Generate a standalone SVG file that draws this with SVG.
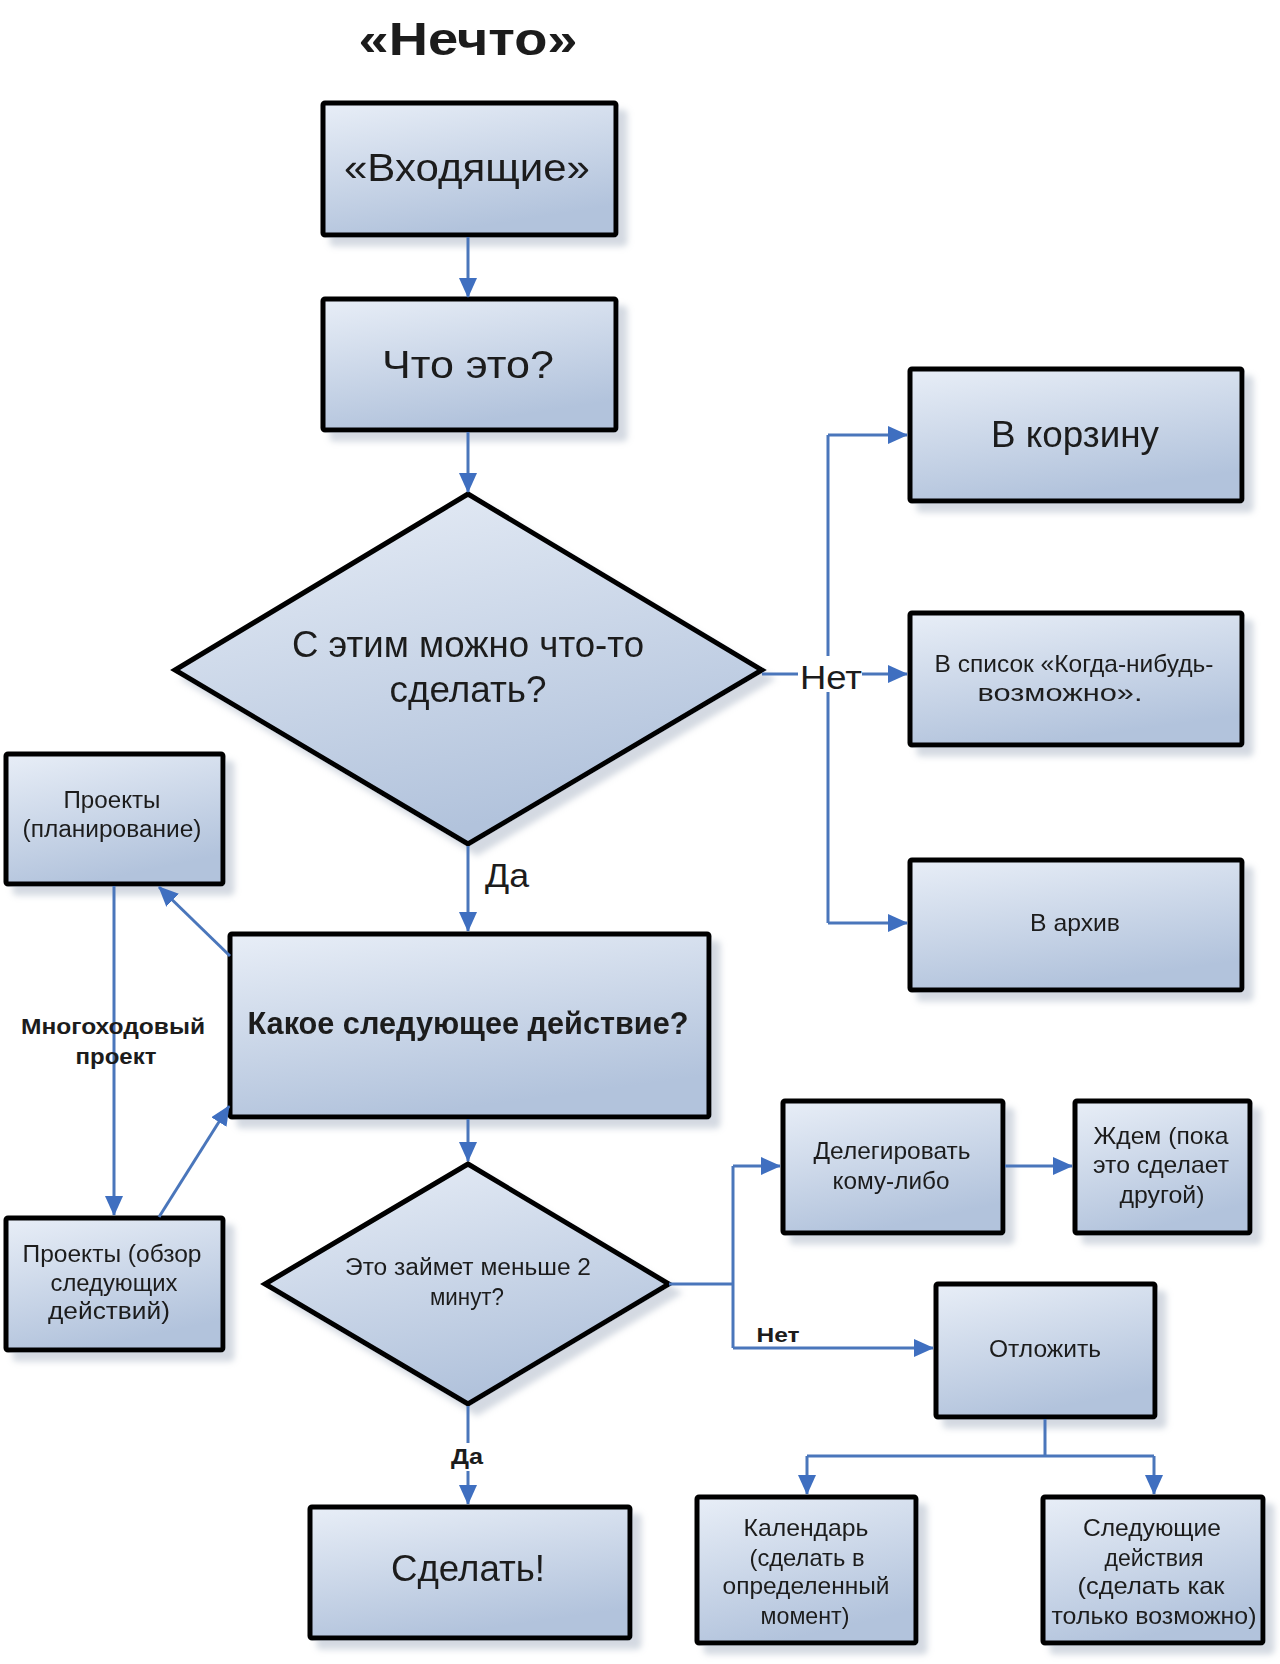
<svg xmlns="http://www.w3.org/2000/svg" width="1280" height="1664" viewBox="0 0 1280 1664">
<defs>
<linearGradient id="fillG" x1="0" y1="0" x2="0.35" y2="1">
<stop offset="0" stop-color="#e8eef7"/>
<stop offset="1" stop-color="#b2c3dc"/>
</linearGradient>
<filter id="sh" x="-10%" y="-10%" width="130%" height="130%">
<feDropShadow dx="9" dy="9" stdDeviation="3" flood-color="#9fabbd" flood-opacity="0.45"/>
</filter>
<marker id="ar" markerUnits="userSpaceOnUse" markerWidth="20" markerHeight="18" refX="19" refY="9" orient="auto">
<path d="M0,0 L20,9 L0,18 Z" fill="#3f6fc0"/>
</marker>
<style>
.box{fill:url(#fillG);stroke:#000;stroke-width:5;}
.t{font-family:"Liberation Sans",Arial,sans-serif;fill:#1c1c1c;text-anchor:middle;}
.b{font-weight:bold;}
.c{fill:none;stroke:#4a76bb;stroke-width:3;}
.ca{fill:none;stroke:#4a76bb;stroke-width:3;marker-end:url(#ar);}
</style>
</defs>
<rect width="1280" height="1664" fill="#ffffff"/>

<text id="title" class="t b" x="468" y="55" font-size="46" textLength="219" lengthAdjust="spacingAndGlyphs">«Нечто»</text>

<g id="nodes">
<g id="inbox" filter="url(#sh)">
<rect class="box" x="323" y="103" width="293" height="132" rx="2"/>
<text class="t" x="467" y="181" font-size="38" textLength="246" lengthAdjust="spacingAndGlyphs">«Входящие»</text>
</g>
<g id="what" filter="url(#sh)">
<rect class="box" x="323" y="299" width="293" height="131" rx="2"/>
<text class="t" x="468" y="378" font-size="38" textLength="172" lengthAdjust="spacingAndGlyphs">Что это?</text>
</g>
<g id="actionable" filter="url(#sh)">
<polygon class="box" points="468,494 762,670 468,844 175,670"/>
<text class="t" x="468" y="657" font-size="36" textLength="352" lengthAdjust="spacingAndGlyphs">С этим можно что-то</text>
<text class="t" x="468" y="702" font-size="36" textLength="157" lengthAdjust="spacingAndGlyphs">сделать?</text>
</g>
<g id="trash" filter="url(#sh)">
<rect class="box" x="910" y="369" width="332" height="132" rx="2"/>
<text class="t" x="1075" y="447" font-size="36" textLength="168" lengthAdjust="spacingAndGlyphs">В корзину</text>
</g>
<g id="someday" filter="url(#sh)">
<rect class="box" x="910" y="613" width="332" height="132" rx="2"/>
<text class="t" x="1074" y="672" font-size="24" textLength="279" lengthAdjust="spacingAndGlyphs">В список «Когда-нибудь-</text>
<text class="t" x="1060" y="701" font-size="24" textLength="165" lengthAdjust="spacingAndGlyphs">возможно».</text>
</g>
<g id="archive" filter="url(#sh)">
<rect class="box" x="910" y="860" width="332" height="130" rx="2"/>
<text class="t" x="1075" y="931" font-size="24" textLength="90" lengthAdjust="spacingAndGlyphs">В архив</text>
</g>
<g id="projplan" filter="url(#sh)">
<rect class="box" x="6" y="754" width="217" height="130" rx="2"/>
<text class="t" x="112" y="808" font-size="23" textLength="97" lengthAdjust="spacingAndGlyphs">Проекты</text>
<text class="t" x="112" y="837" font-size="23" textLength="179" lengthAdjust="spacingAndGlyphs">(планирование)</text>
</g>
<g id="nextaction" filter="url(#sh)">
<rect class="box" x="230" y="934" width="479" height="183" rx="2"/>
<text class="t b" x="468" y="1034" font-size="31" textLength="441" lengthAdjust="spacingAndGlyphs">Какое следующее действие?</text>
</g>
<g id="projreview" filter="url(#sh)">
<rect class="box" x="6" y="1218" width="217" height="132" rx="2"/>
<text class="t" x="112" y="1262" font-size="23" textLength="179" lengthAdjust="spacingAndGlyphs">Проекты (обзор</text>
<text class="t" x="114" y="1291" font-size="23" textLength="127" lengthAdjust="spacingAndGlyphs">следующих</text>
<text class="t" x="109" y="1319" font-size="23" textLength="122" lengthAdjust="spacingAndGlyphs">действий)</text>
</g>
<g id="twomin" filter="url(#sh)">
<polygon class="box" points="468,1164 669,1284 468,1404 265,1284"/>
<text class="t" x="468" y="1275" font-size="23" textLength="246" lengthAdjust="spacingAndGlyphs">Это займет меньше 2</text>
<text class="t" x="467" y="1305" font-size="23" textLength="74" lengthAdjust="spacingAndGlyphs">минут?</text>
</g>
<g id="delegate" filter="url(#sh)">
<rect class="box" x="783" y="1101" width="220" height="132" rx="2"/>
<text class="t" x="892" y="1159" font-size="24" textLength="157" lengthAdjust="spacingAndGlyphs">Делегировать</text>
<text class="t" x="891" y="1189" font-size="24" textLength="117" lengthAdjust="spacingAndGlyphs">кому-либо</text>
</g>
<g id="waiting" filter="url(#sh)">
<rect class="box" x="1075" y="1101" width="175" height="132" rx="2"/>
<text class="t" x="1161" y="1144" font-size="24" textLength="135" lengthAdjust="spacingAndGlyphs">Ждем (пока</text>
<text class="t" x="1161" y="1173" font-size="24" textLength="136" lengthAdjust="spacingAndGlyphs">это сделает</text>
<text class="t" x="1162" y="1203" font-size="24" textLength="85" lengthAdjust="spacingAndGlyphs">другой)</text>
</g>
<g id="defer" filter="url(#sh)">
<rect class="box" x="936" y="1284" width="219" height="133" rx="2"/>
<text class="t" x="1045" y="1357" font-size="24" textLength="112" lengthAdjust="spacingAndGlyphs">Отложить</text>
</g>
<g id="doit" filter="url(#sh)">
<rect class="box" x="310" y="1507" width="320" height="131" rx="2"/>
<text class="t" x="468" y="1581" font-size="36" textLength="154" lengthAdjust="spacingAndGlyphs">Сделать!</text>
</g>
<g id="calendar" filter="url(#sh)">
<rect class="box" x="697" y="1497" width="219" height="146" rx="2"/>
<text class="t" x="806" y="1536" font-size="24" textLength="125" lengthAdjust="spacingAndGlyphs">Календарь</text>
<text class="t" x="807" y="1566" font-size="24" textLength="115" lengthAdjust="spacingAndGlyphs">(сделать в</text>
<text class="t" x="806" y="1594" font-size="24" textLength="167" lengthAdjust="spacingAndGlyphs">определенный</text>
<text class="t" x="805" y="1624" font-size="24" textLength="89" lengthAdjust="spacingAndGlyphs">момент)</text>
</g>
<g id="nextactions" filter="url(#sh)">
<rect class="box" x="1043" y="1497" width="220" height="146" rx="2"/>
<text class="t" x="1152" y="1536" font-size="24" textLength="138" lengthAdjust="spacingAndGlyphs">Следующие</text>
<text class="t" x="1154" y="1566" font-size="24" textLength="99" lengthAdjust="spacingAndGlyphs">действия</text>
<text class="t" x="1151" y="1594" font-size="24" textLength="147" lengthAdjust="spacingAndGlyphs">(сделать как</text>
<text class="t" x="1154" y="1624" font-size="24" textLength="205" lengthAdjust="spacingAndGlyphs">только возможно)</text>
</g>
</g>

<g id="connectors">
<path class="ca" d="M468,237 V297"/>
<path class="ca" d="M468,432 V492"/>
<path class="ca" d="M762,674 H907"/>
<path class="c" d="M828,923 V435"/>
<path class="ca" d="M828,435 H907"/>
<path class="ca" d="M828,923 H907"/>
<path class="ca" d="M468,846 V931"/>
<path class="ca" d="M230,956 L159,887"/>
<path class="ca" d="M114,886 V1215"/>
<path class="ca" d="M159,1217 L229,1106"/>
<path class="ca" d="M468,1119 V1161"/>
<path class="ca" d="M468,1406 V1504"/>
<path class="c" d="M669,1284 H733"/>
<path class="c" d="M733,1166 V1348"/>
<path class="ca" d="M733,1166 H780"/>
<path class="ca" d="M733,1348 H933"/>
<path class="ca" d="M1005,1166 H1072"/>
<path class="c" d="M1045,1419 V1456 M807,1456 H1154"/>
<path class="ca" d="M807,1456 V1494"/>
<path class="ca" d="M1154,1456 V1494"/>
<g id="labels">
<rect x="798" y="656" width="64" height="36" fill="#ffffff"/>
<text class="t" x="831" y="689" font-size="33" textLength="62" lengthAdjust="spacingAndGlyphs">Нет</text>
<text class="t" x="507" y="887" font-size="33" textLength="44" lengthAdjust="spacingAndGlyphs">Да</text>
<text class="t b" x="113" y="1034" font-size="22" textLength="184" lengthAdjust="spacingAndGlyphs">Многоходовый</text>
<text class="t b" x="116" y="1064" font-size="22" textLength="81" lengthAdjust="spacingAndGlyphs">проект</text>
<rect x="450" y="1443" width="36" height="28" fill="#ffffff"/>
<text class="t b" x="467" y="1464" font-size="22" textLength="32" lengthAdjust="spacingAndGlyphs">Да</text>
<text class="t b" x="778" y="1342" font-size="21" textLength="43" lengthAdjust="spacingAndGlyphs">Нет</text>
</g>
</g>
</svg>
